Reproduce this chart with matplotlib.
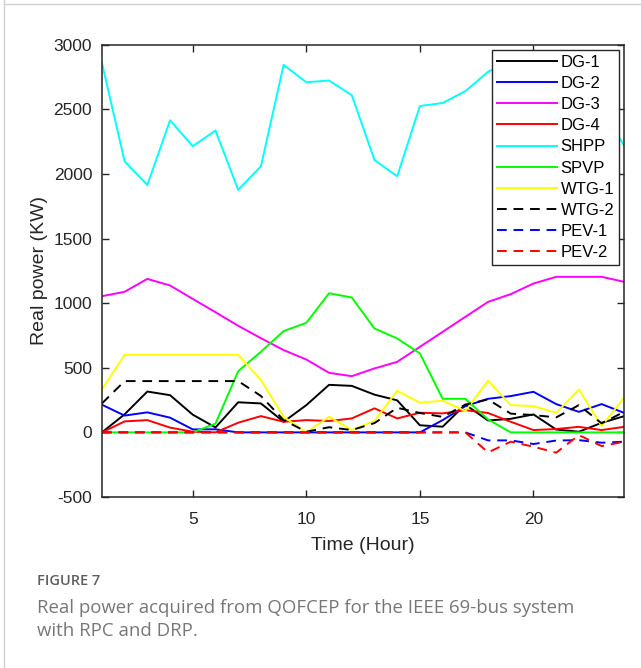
import numpy as np
import matplotlib
matplotlib.use("Agg")
import matplotlib.pyplot as plt
from matplotlib.lines import Line2D

plt.rcParams['font.family'] = ['Liberation Sans', 'DejaVu Sans']
plt.rcParams['axes.unicode_minus'] = False

# hourly real power (KW)
hours = list(range(1, 25))
dg1 = [0, 140, 316, 288, 137, 38, 233, 224, 82, 211, 368, 360, 292, 248, 55, 44, 215, 92, 105, 139, 22, 5, 74, 126]
dg2 = [214, 130, 155, 114, 23, 24, 0, 0, 0, 0, 0, 0, 0, 0, 0, 95, 203, 260, 281, 314, 219, 159, 219, 150]
dg3 = [1054, 1088, 1188, 1137, 1033, 930, 825, 729, 637, 564, 461, 435, 495, 546, 662, 778, 894, 1010, 1070, 1152, 1204, 1204, 1204, 1165]
dg4 = [0, 85, 95, 37, 5, 0, 75, 126, 82, 95, 88, 108, 186, 108, 152, 147, 172, 150, 82, 18, 26, 43, 18, 43]
shpp = [2860, 2097, 1915, 2415, 2215, 2336, 1877, 2059, 2844, 2710, 2723, 2610, 2108, 1982, 2526, 2549, 2641, 2790, 2880, 2920, 2800, 2650, 2500, 2218]
spvp = [0, 0, 0, 0, 0, 68, 474, 624, 784, 848, 1077, 1044, 804, 727, 611, 260, 260, 100, 0, 0, 0, 0, 0, 0]
wtg1 = [332, 600, 600, 600, 600, 600, 600, 405, 120, 0, 121, 18, 88, 322, 230, 245, 165, 400, 211, 203, 152, 332, 49, 271]
wtg2 = [224, 397, 397, 397, 397, 397, 397, 282, 95, 5, 40, 18, 72, 190, 150, 120, 215, 255, 145, 134, 116, 211, 70, 160]
pev1 = [0] * 17 + [-62, -62, -90, -63, -60, -80, -72]
pev2 = [0] * 17 + [-155, -72, -111, -157, -21, -106, -72]

series = [
    ("DG-1", dg1, 'k', '-'),
    ("DG-2", dg2, '#0000ff', '-'),
    ("DG-3", dg3, '#ff00ff', '-'),
    ("DG-4", dg4, '#ff0000', '-'),
    ("SHPP", shpp, '#00ffff', '-'),
    ("SPVP", spvp, '#00ff00', '-'),
    ("WTG-1", wtg1, '#ffff00', '-'),
    ("WTG-2", wtg2, 'k', '--'),
    ("PEV-1", pev1, '#0000ff', '--'),
    ("PEV-2", pev2, '#ff0000', '--'),
]

fig = plt.figure(figsize=(6.41, 6.68), dpi=100)
ax = fig.add_axes([0.159, 0.256, 0.815, 0.677])

for name, vals, col, ls in series:
    ax.plot(hours, vals, color=col, linestyle=ls, linewidth=1.4, label=name,
            dashes=(5, 3.5) if ls == '--' else (None, None))

ax.set_xlim(1, 24)
ax.set_ylim(-500, 3000)
ax.set_xticks([5, 10, 15, 20])
ax.set_yticks(np.arange(-500, 3001, 500))
ax.tick_params(direction='in', length=5, width=1, top=True, right=True,
               labelsize=12.5, colors='#262626')
ax.tick_params(axis='x', pad=11)
ax.tick_params(axis='y', pad=7)
for sp in ax.spines.values():
    sp.set_linewidth(1.1)
    sp.set_color('#262626')

ax.set_xlabel('Time (Hour)', fontsize=14, color='#262626', labelpad=7)
ax.set_ylabel('Real power (KW)', fontsize=14, color='#262626', labelpad=4)

leg = ax.legend(loc='upper right', fontsize=12, frameon=True, fancybox=False,
                framealpha=1, edgecolor='#262626', handlelength=3.6,
                handletextpad=0.2, labelspacing=0.37, borderaxespad=0.3,
                borderpad=0.3)
leg.get_frame().set_linewidth(1.0)

# caption
fig.text(0.058, 0.124, 'FIGURE 7', fontsize=10.5, color='#5f5f5f',
         family='Open Sans', fontweight='semibold')
fig.text(0.058, 0.048, 'Real power acquired from QOFCEP for the IEEE 69-bus system\nwith RPC and DRP.',
         fontsize=13.4, color='#777777', family='Open Sans', linespacing=1.35)

# card border
fig.add_artist(Line2D([0.006, 0.006], [0, 1], color='#d0d0d0', linewidth=1))
fig.add_artist(Line2D([0.006, 1], [0.994, 0.994], color='#d0d0d0', linewidth=1))

fig.savefig('out.png', dpi=100)
